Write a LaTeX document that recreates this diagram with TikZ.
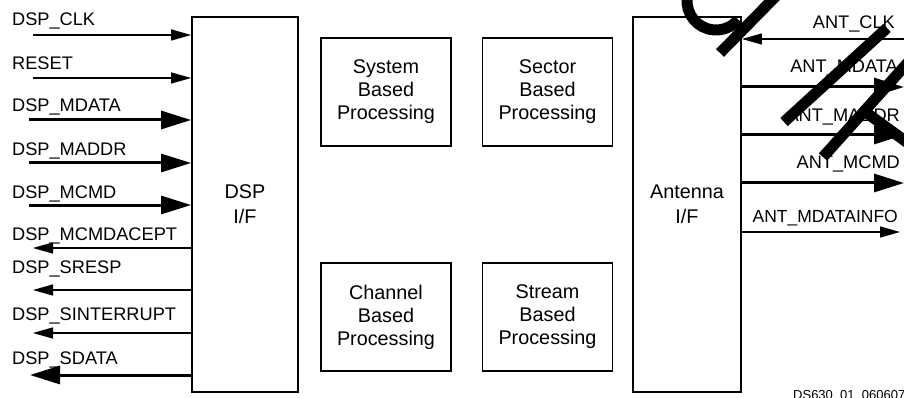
\documentclass[tikz,border=0pt]{standalone}
\usepackage{fontspec}
\setmainfont{Liberation Sans}
\usetikzlibrary{arrows.meta}
\begin{document}
\begin{tikzpicture}[x=1pt,y=-1pt,
  font=\fontsize{18.2}{23}\selectfont,
  thinarrow/.style={line width=1.3pt,-{Triangle[length=20pt,width=11pt]}},
  thickarrow/.style={line width=3pt,-{Triangle[length=30pt,width=18pt]}},
  ifbox/.style={draw,line width=1.8pt,inner sep=0pt,align=center,font=\fontsize{19.8}{25}\selectfont},
  procbox/.style={draw,line width=1.2pt,inner sep=0pt,minimum width=130pt,minimum height=108pt,align=center,font=\fontsize{19.8}{23}\selectfont},
  lbl/.style={inner sep=0pt,anchor=base west},
  rlbl/.style={inner sep=0pt,anchor=base east},
  slash/.style={line width=11pt,black}]
\useasboundingbox (0,0) rectangle (904,398);

% interface boxes
\node[ifbox,minimum width=106pt,minimum height=375pt] (dsp) at (245,204.5) {DSP\\I/F};
\node[ifbox,minimum width=108pt,minimum height=375pt] (ant) at (687,204.5) {Antenna\\I/F};

% processing boxes
\node[procbox] (sys) at (386,92) {System\\Based\\Processing};
\node[procbox] (sec) at (547.5,92) {Sector\\Based\\Processing};
\node[procbox] (chn) at (386,317) {Channel\\Based\\Processing};
\node[procbox] (str) at (547.5,317) {Stream\\Based\\Processing};

% left side signals
\coordinate (l1) at (33,35);
\coordinate (l2) at (33,78);
\coordinate (l3) at (29,120);
\coordinate (l4) at (29,163);
\coordinate (l5) at (29,205);
\coordinate (l6) at (33,248);
\coordinate (l7) at (33,290);
\coordinate (l8) at (33,333);
\coordinate (l9) at (30,375);

\draw[thinarrow] (l1) -- (l1 -| dsp.west);
\draw[thinarrow] (l2) -- (l2 -| dsp.west);
\draw[thickarrow] (l3) -- (l3 -| dsp.west);
\draw[thickarrow] (l4) -- (l4 -| dsp.west);
\draw[thickarrow] (l5) -- (l5 -| dsp.west);
\draw[thinarrow] (l6 -| dsp.west) -- (l6);
\draw[thinarrow] (l7 -| dsp.west) -- (l7);
\draw[thinarrow] (l8 -| dsp.west) -- (l8);
\draw[thickarrow] (l9 -| dsp.west) -- (l9);

\node[lbl] (t1) at (12,26) {DSP\_CLK};
\node[lbl] (t2) at (12,70) {RESET};
\node[lbl] (t3) at (12,112) {DSP\_MDATA};
\node[lbl] (t4) at (12,156) {DSP\_MADDR};
\node[lbl] (t5) at (12,198) {DSP\_MCMD};
\node[lbl] (t6) at (12,240) {DSP\_MCMDACEPT};
\node[lbl] (t7) at (12,273) {DSP\_SRESP};
\node[lbl] (t8) at (12,320) {DSP\_SINTERRUPT};
\node[lbl] (t9) at (12,364) {DSP\_SDATA};

% right side signals
\coordinate (r1) at (904,39);
\coordinate (r2) at (904,87);
\coordinate (r3) at (904,135);
\coordinate (r4) at (904,183);
\coordinate (r5) at (900,232);

\draw[thinarrow] (r1) -- (r1 -| ant.east);
\draw[thickarrow] (r2 -| ant.east) -- (r2);
\draw[thickarrow] (r3 -| ant.east) -- (r3);
\draw[thickarrow] (r4 -| ant.east) -- (r4);
\draw[thinarrow] (r5 -| ant.east) -- (r5);

\node[rlbl] (s1) at (895,29) {ANT\_CLK};
\node[rlbl] (s2) at (898,73) {ANT\_MDATA};
\node[rlbl] (s3) at (900,122) {ANT\_MADDR};
\node[rlbl] (s4) at (900,168) {ANT\_MCMD};
\node[rlbl,font=\fontsize{17.5}{23}\selectfont] (s5) at (898,222) {ANT\_MDATAINFO};

% figure code
\node[lbl,font=\fontsize{13}{15}\selectfont] (code) at (793,399.5) {DS630\_01\_060607};

% black strokes over the picture
\draw[slash] (720,53) -- (777,-5);
\draw[slash] ([shift={(185:29)}]716,1) arc[start angle=185,end angle=40,radius=29];
\draw[slash] (887,28) -- (784,122);
\draw[slash] (912,58) -- (823,157);
\draw[slash] (864,111) -- (912,146);
\end{tikzpicture}
\end{document}
